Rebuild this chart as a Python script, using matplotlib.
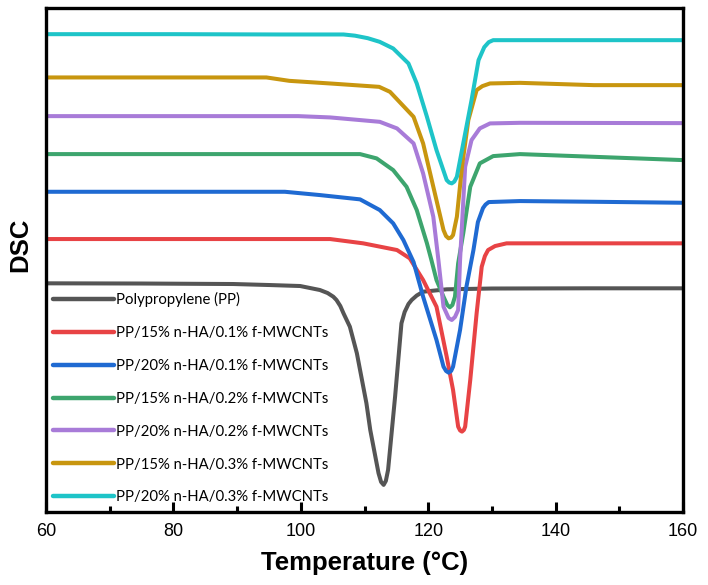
import matplotlib
matplotlib.use('Agg')
import matplotlib.pyplot as plt
from matplotlib.ticker import MultipleLocator

# DSC traces (temperature in C, heat flow in arbitrary offset units)
t_pp = [60, 75, 89.4, 95, 99.9, 103, 104.2, 105.1, 105.6, 106.2, 106.7, 107.7, 108.8, 109.3, 110.3, 110.9,
        111.9, 112.2, 112.6, 113.0, 113.35, 113.7, 114.8, 115.8, 116.3, 116.9, 117.4, 118.2, 119.2, 122.9,
        130, 145, 160]
dsc_pp = [228.7, 228.5, 228, 227, 226, 222, 219, 215.3, 212, 206, 198.7, 185.3, 158.7, 142, 108.7, 82,
          48.7, 38.7, 30, 27, 31, 42, 115.3, 188.7, 200, 208, 212, 216.5, 220.3, 222.7,
          223.5, 223.7, 223.7]

t_r1 = [60, 80, 104.6, 109.8, 115.1, 117.1, 119.2, 121.3, 122.9, 123.9, 124.7, 125.0, 125.3, 125.6, 125.8,
        126.6, 127.6, 128.4, 128.9, 129.4, 130.5, 132.3, 145, 160]
dsc_r1 = [273, 273, 273, 268.7, 262, 253.7, 232, 205.3, 155.3, 122, 85.3, 81.5, 80.3, 82, 85.3,
          132, 198.7, 245.3, 256, 262, 266, 268.7, 268.7, 268.7]

t_b1 = [60, 80, 97.5, 103, 109.3, 112.4, 114.5, 116.1, 117.7, 119.2, 121.3, 122.4, 122.8, 123.2, 123.6,
        123.9, 125.0, 126.0, 127.1, 127.8, 128.6, 129.0, 129.5, 134.4, 146, 160]
dsc_b1 = [320.3, 320.3, 320.3, 317, 312.7, 302, 288.7, 272, 250, 215.3, 172, 145.3, 141, 139.3, 141,
          145.3, 182, 225.3, 262, 290, 304, 307.5, 310, 311, 310.3, 309.3]

t_g2 = [60, 85, 109.3, 111.9, 114.5, 116.6, 118.2, 119.8, 120.5, 121.3, 122.4, 123.0, 123.4, 123.8, 124.2,
        124.7, 125.5, 126.6, 128.1, 130.2, 134.4, 146, 160]
dsc_g2 = [358, 358, 358, 353.7, 342, 325.3, 302, 268.7, 252, 232, 215.3, 207, 204.7, 207, 215.3,
          248.7, 278.7, 325.3, 348.7, 356, 358, 355.3, 352]

t_p2 = [60, 80, 99.6, 104.6, 112.4, 115.1, 117.7, 119.2, 120.8, 121.6, 122.4, 123.2, 123.7, 124.2, 124.7,
        125.0, 125.8, 126.8, 128.1, 129.7, 134.4, 160]
dsc_p2 = [396, 396, 396, 394.7, 390.3, 383.7, 368.7, 338.7, 295.3, 252, 205.3, 194, 192, 195, 202,
          252, 345.3, 372, 383.7, 388.7, 389.3, 389]

t_y3 = [60, 80, 94.6, 98.2, 105, 112.3, 114.0, 117.7, 119.2, 120.8, 122.4, 122.8, 123.2, 123.6, 123.9,
        124.5, 125.3, 126.3, 127.6, 128.5, 129.7, 134.4, 146, 160]
dsc_y3 = [434.7, 434.7, 434.7, 431.3, 428.5, 425.3, 420.3, 395.3, 368.7, 325.3, 282, 276, 273.7, 274.5, 277,
          295.3, 345.3, 392, 422, 426, 428.7, 429.3, 427, 427]

t_c3 = [60, 80, 96.7, 106.7, 108.5, 110.5, 112.4, 114.5, 116.9, 118.2, 119.8, 121.3, 122.9, 123.3, 123.7,
        124.1, 124.5, 125.5, 126.8, 127.9, 128.8, 129.5, 130.2, 145, 160]
dsc_c3 = [478, 478, 477.7, 477.7, 476.5, 474, 470.3, 463.7, 448.7, 428.7, 395.3, 362, 332, 329.5, 328.7,
          330.5, 335.3, 368.7, 412, 452, 465, 470, 472, 472, 472]

labels = ['Polypropylene (PP)',
          'PP/15% n-HA/0.1% f-MWCNTs',
          'PP/20% n-HA/0.1% f-MWCNTs',
          'PP/15% n-HA/0.2% f-MWCNTs',
          'PP/20% n-HA/0.2% f-MWCNTs',
          'PP/15% n-HA/0.3% f-MWCNTs',
          'PP/20% n-HA/0.3% f-MWCNTs']
colors = ['#555555', '#E84345', '#1F6AD2', '#3DA56E', '#A87BD8', '#C8960F', '#1EC4C8']

plt.rcParams['font.family'] = ['Liberation Sans', 'DejaVu Sans']

fig = plt.figure(figsize=(7.08, 5.85), dpi=100)
ax = fig.add_axes([0.065, 0.125, 0.8997, 0.861])

series = [(t_pp, dsc_pp), (t_r1, dsc_r1), (t_b1, dsc_b1), (t_g2, dsc_g2),
          (t_p2, dsc_p2), (t_y3, dsc_y3), (t_c3, dsc_c3)]
for (t, d), lab, c in zip(series, labels, colors):
    ax.plot(t, d, color=c, lw=2.9, label=lab, solid_joinstyle='round', solid_capstyle='round')

ax.set_xlim(60, 160)
ax.set_ylim(0, 504)
ax.xaxis.set_major_locator(MultipleLocator(20))
ax.xaxis.set_minor_locator(MultipleLocator(10))
ax.set_yticks([])
ax.tick_params(axis='x', which='major', direction='in', length=7, width=2.2, labelsize=13, pad=8)
ax.tick_params(axis='x', which='minor', direction='in', length=4, width=2.2)
for s in ax.spines.values():
    s.set_linewidth(2.4)

ax.set_xlabel('Temperature (°C)', fontsize=18.5, fontweight='bold', labelpad=8)
ax.set_ylabel('DSC', fontsize=18.5, fontweight='bold')
ax.yaxis.set_label_coords(-0.021, 0.53)

leg = ax.legend(loc='lower left', bbox_to_anchor=(0.0, 0.0), frameon=False,
                prop={'family': 'Lato', 'size': 10.7}, handlelength=4.1, handletextpad=0.12,
                labelspacing=1.27, borderaxespad=0.3, borderpad=0.2)
for line in leg.get_lines():
    line.set_linewidth(3.2)

fig.savefig('out.png', dpi=100)
